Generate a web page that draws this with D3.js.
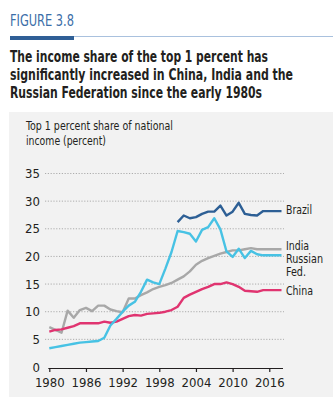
<!DOCTYPE html>
<html>
<head>
<meta charset="utf-8">
<script src="https://cdn.jsdelivr.net/npm/d3@7"></script>
<style>
  body { margin: 0; background: #fff; }
  svg { display: block; }
  text { font-family: "Liberation Sans Narrow", "DejaVu Sans Condensed", "Roboto", sans-serif; }
</style>
</head>
<body>
<div id="chart"></div>
<script>
// data (percent)
var years = d3.range(1980, 2019);

var brazilYears = d3.range(2001, 2019);
var brazil = [26.2, 27.4, 26.9, 27.1, 27.7, 28.1, 28.1, 29.2, 27.4, 28.1, 29.7, 27.7, 27.5, 27.4, 28.2, 28.2, 28.2, 28.2];

var india = [7.2, 6.7, 6.2, 10.2, 8.9, 10.3, 10.7, 10.1, 11.1, 11.1, 10.4, 10.1, 9.9, 12.4, 12.4, 13.0, 13.5, 14.1, 14.5, 14.8,
             15.2, 15.8, 16.4, 17.3, 18.5, 19.2, 19.7, 20.1, 20.5, 20.8, 21.1, 21.1, 21.3, 21.5, 21.3, 21.3, 21.3, 21.3, 21.3];

var russia = [3.4, 3.6, 3.8, 4.0, 4.2, 4.4, 4.5, 4.6, 4.7, 5.3, 7.5, 8.7, 10.0, 11.1, 11.8, 13.6, 15.8, 15.3, 15.0, 17.8,
              20.8, 24.6, 24.4, 24.1, 22.7, 24.8, 25.3, 26.9, 24.9, 20.9, 19.9, 21.4, 19.7, 21.0, 20.4, 20.2, 20.2, 20.2, 20.2];

var china = [6.4, 6.7, 6.8, 7.1, 7.4, 7.9, 7.9, 7.9, 7.9, 8.2, 8.0, 8.2, 8.7, 9.2, 9.4, 9.3, 9.6, 9.7, 9.8, 10.0,
             10.3, 10.9, 12.5, 13.1, 13.6, 14.1, 14.5, 15.0, 15.0, 15.3, 15.0, 14.5, 13.8, 13.7, 13.6, 13.9, 13.9, 13.9, 13.9];

var yTicks = [0, 5, 10, 15, 20, 25, 30, 35];
var xTicks = [1980, 1986, 1992, 1998, 2004, 2010, 2016];

var titleLines = ["The income share of the top 1 percent has",
                  "significantly increased in China, India and the",
                  "Russian Federation since the early 1980s"];

var W = 333, H = 397;
var svg = d3.select("#chart").append("svg").attr("width", W).attr("height", H);

// header
svg.append("text").attr("x", 10).attr("y", 26)
  .attr("font-size", 15.5).attr("fill", "#3b6ea8")
  .attr("textLength", 64).attr("lengthAdjust", "spacingAndGlyphs")
  .text("FIGURE 3.8");
svg.append("rect").attr("x", 74).attr("y", 36).attr("width", W - 74).attr("height", 1).attr("fill", "#a9c1de");
svg.append("rect").attr("x", 10).attr("y", 36).attr("width", 64).attr("height", 4).attr("fill", "#2f5f96");

var titleW = [258, 283, 252];
svg.selectAll("text.title").data(titleLines).enter().append("text")
  .attr("class", "title")
  .attr("x", 10).attr("y", function(d, i) { return 62 + i * 17.8; })
  .attr("font-size", 15).attr("font-weight", "bold").attr("fill", "#231f20")
  .attr("textLength", function(d, i) { return titleW[i]; })
  .attr("lengthAdjust", "spacingAndGlyphs")
  .text(function(d) { return d; });

// panel
svg.append("rect").attr("x", 9).attr("y", 112).attr("width", W - 9).attr("height", H - 112).attr("fill", "#f2f2f2");

svg.append("text").attr("x", 26).attr("y", 130).attr("font-size", 12.5).attr("fill", "#231f20")
  .attr("textLength", 147).attr("lengthAdjust", "spacingAndGlyphs")
  .text("Top 1 percent share of national");
svg.append("text").attr("x", 26).attr("y", 145).attr("font-size", 12.5).attr("fill", "#231f20")
  .attr("textLength", 80).attr("lengthAdjust", "spacingAndGlyphs")
  .text("income (percent)");

var x = d3.scaleLinear().domain([1980, 2018]).range([49.3, 281.5]);
var y = d3.scaleLinear().domain([0, 35]).range([367, 173.5]);

// grid
svg.append("g").selectAll("line").data(yTicks.slice(1)).enter().append("line")
  .attr("x1", 45).attr("x2", 284)
  .attr("y1", function(d) { return y(d); }).attr("y2", function(d) { return y(d); })
  .attr("stroke", "#9a9a9a").attr("stroke-width", 0.8).attr("stroke-dasharray", "1.2,1.6");

svg.append("g").selectAll("text").data(yTicks).enter().append("text")
  .attr("x", 40).attr("y", function(d) { return y(d) + 4.5; })
  .attr("text-anchor", "end").attr("font-size", 13).attr("fill", "#231f20")
  .text(function(d) { return d; });

// x axis
var xAxis = d3.axisBottom(x).tickValues(xTicks).tickSize(4).tickFormat(d3.format("d"));
var gx = svg.append("g").attr("transform", "translate(0,368)").call(xAxis);
gx.select(".domain").attr("d", "M48.3,0.5H283").attr("stroke", "#231f20").attr("stroke-width", 1.2);
gx.selectAll(".tick line").attr("stroke", "#231f20").attr("stroke-width", 1.2);
gx.selectAll(".tick text").attr("font-size", 13).attr("fill", "#231f20").attr("dy", "0.9em")
  .attr("font-family", "Liberation Sans Narrow, DejaVu Sans Condensed, Roboto, sans-serif");

var line = d3.line().x(function(d) { return x(d[0]); }).y(function(d) { return y(d[1]); });

var series = [
  { name: "India", color: "#a8a8a8", yrs: years, vals: india },
  { name: "China", color: "#e03470", yrs: years, vals: china },
  { name: "Russia", color: "#47c2e4", yrs: years, vals: russia },
  { name: "Brazil", color: "#2d5f95", yrs: brazilYears, vals: brazil }
];

svg.append("g").selectAll("path").data(series).enter().append("path")
  .attr("fill", "none").attr("stroke-width", 2.4).attr("stroke-linejoin", "round")
  .attr("stroke", function(d) { return d.color; })
  .attr("d", function(d) { return line(d.yrs.map(function(yr, i) { return [yr, d.vals[i]]; })); });

// labels
var labels = [
  { t: "Brazil", yy: 214, w: 26 },
  { t: "India", yy: 250, w: 23 },
  { t: "Russian", yy: 263, w: 37 },
  { t: "Fed.", yy: 276, w: 20 },
  { t: "China", yy: 295, w: 27 }
];
svg.append("g").selectAll("text").data(labels).enter().append("text")
  .attr("x", 286).attr("y", function(d) { return d.yy; })
  .attr("font-size", 12).attr("fill", "#231f20")
  .attr("textLength", function(d) { return d.w; }).attr("lengthAdjust", "spacingAndGlyphs")
  .text(function(d) { return d.t; });
</script>
</body>
</html>
